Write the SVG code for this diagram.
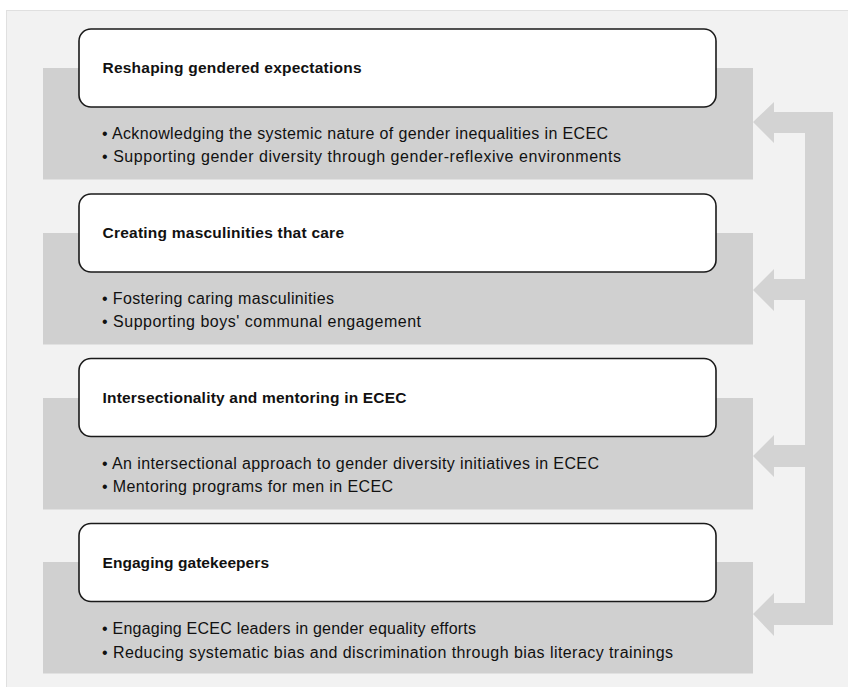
<svg xmlns="http://www.w3.org/2000/svg" width="848" height="687" viewBox="0 0 848 687">
<style>
.panel{fill:#f2f2f2;stroke:#e0e0e0;stroke-width:1}
.band{fill:#d0d0d0}
.card{fill:#ffffff;stroke:#1a1a1a;stroke-width:1.6}
.title{font-family:"Liberation Sans",Arial,sans-serif;font-weight:bold;font-size:15.5px;fill:#111}
.item{font-family:"Liberation Sans",Arial,sans-serif;font-size:16px;fill:#111}
.conn{fill:#d3d3d3}
</style>
<rect class="panel" x="6.5" y="10.5" width="860" height="700"/>

<g id="connectors">
<rect class="conn" x="805" y="112" width="28" height="513"/>
<path class="conn" d="M805,112 L774,112 L774,102 L753,122 L774,143 L774,133 L805,133 Z"/>
<path class="conn" d="M805,279 L774,279 L774,269 L753,290 L774,311 L774,300 L805,300 Z"/>
<path class="conn" d="M805,445 L774,445 L774,435 L753,456 L774,477 L774,467 L805,467 Z"/>
<path class="conn" d="M805,603 L774,603 L774,593 L753,614 L774,636 L774,625 L805,625 Z"/>
</g>

<g id="node-reshaping">
<rect class="band" x="43" y="68" width="710" height="111.5"/>
<rect class="card" x="79" y="29" width="637" height="78" rx="12"/>
<text class="title" x="102.5" y="73.3" textLength="259">Reshaping gendered expectations</text>
<text class="item" x="102" y="139" textLength="506">• Acknowledging the systemic nature of gender inequalities in ECEC</text>
<text class="item" x="102" y="161.5" textLength="519">• Supporting gender diversity through gender-reflexive environments</text>
</g>

<g id="node-masculinities">
<rect class="band" x="43" y="233" width="710" height="111.5"/>
<rect class="card" x="79" y="194" width="637" height="78" rx="12"/>
<text class="title" x="102.5" y="238.3" textLength="241.5">Creating masculinities that care</text>
<text class="item" x="102" y="304.3" textLength="232">• Fostering caring masculinities</text>
<text class="item" x="102" y="327.3" textLength="319">• Supporting boys' communal engagement</text>
</g>

<g id="node-intersectionality">
<rect class="band" x="43" y="398" width="710" height="111.5"/>
<rect class="card" x="79" y="358.5" width="637" height="78" rx="12"/>
<text class="title" x="102.5" y="402.7" textLength="304">Intersectionality and mentoring in ECEC</text>
<text class="item" x="102" y="469" textLength="497">• An intersectional approach to gender diversity initiatives in ECEC</text>
<text class="item" x="102" y="492.3" textLength="291">• Mentoring programs for men in ECEC</text>
</g>

<g id="node-gatekeepers">
<rect class="band" x="43" y="562" width="710" height="111.5"/>
<rect class="card" x="79" y="523.5" width="637" height="78" rx="12"/>
<text class="title" x="102.5" y="567.7" textLength="166.5">Engaging gatekeepers</text>
<text class="item" x="102" y="633.5" textLength="374">• Engaging ECEC leaders in gender equality efforts</text>
<text class="item" x="102" y="657.7" textLength="571">• Reducing systematic bias and discrimination through bias literacy trainings</text>
</g>
</svg>
